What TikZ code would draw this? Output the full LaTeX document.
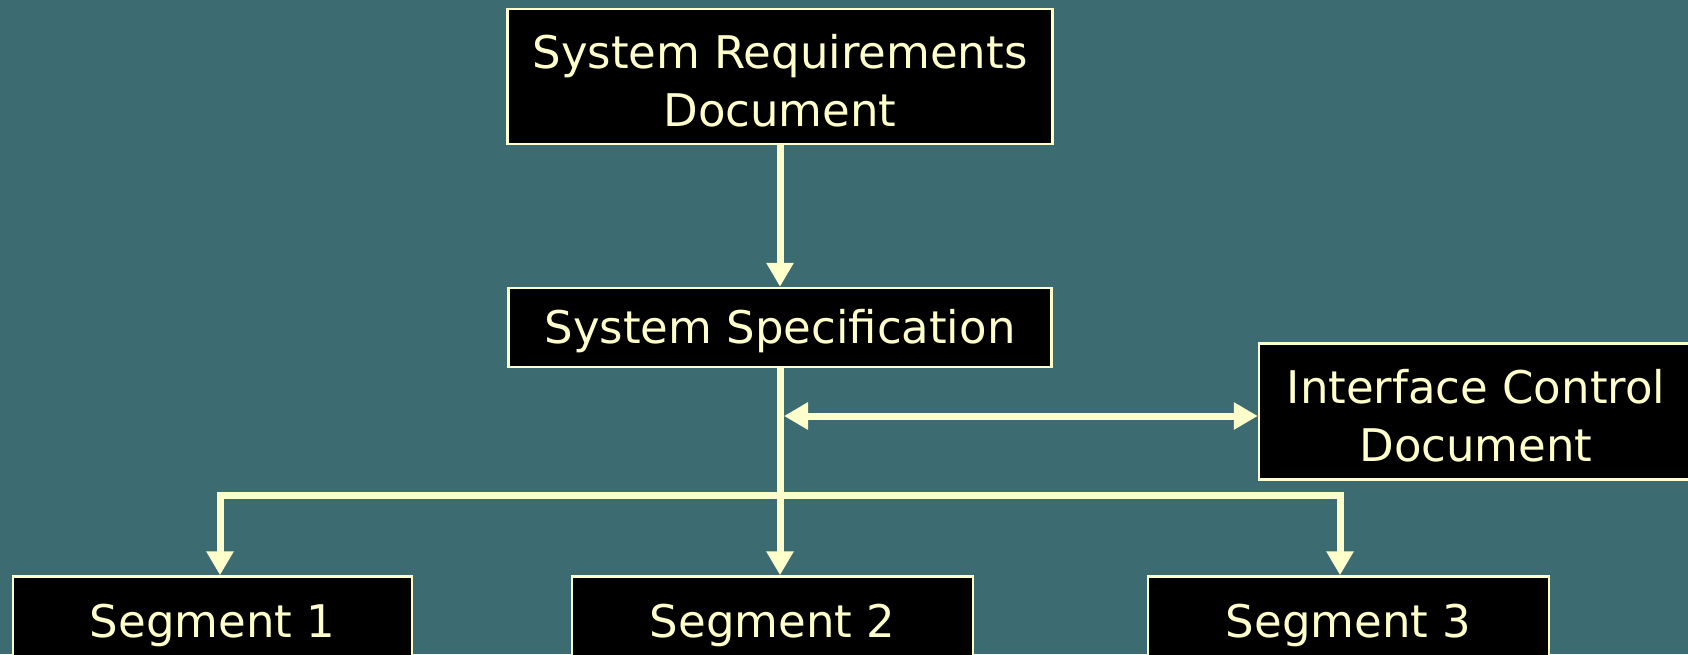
\documentclass[tikz,border=0pt]{standalone}
\usepackage{fontspec}
\setmainfont{DejaVu Sans}
\usetikzlibrary{arrows.meta}

\begin{document}
\begin{tikzpicture}[x=1pt,y=-1pt,line width=0.4pt,
  docbox/.style={draw=paleyel,fill=black,line width=2.5pt,inner sep=0pt,
    align=center,text=paleyel,font=\fdoc},
  oneline/.style={docbox,text height=42pt},
  twolines/.style={docbox,text height=100pt},
  flow/.style={draw=paleyel,line width=7pt,-{Triangle[width=26pt,length=24pt]}},
  twoway/.style={draw=paleyel,line width=7pt,
    {Triangle[width=26pt,length=24pt]}-{Triangle[width=26pt,length=24pt]}}]
\definecolor{paleyel}{RGB}{255,255,204}
\definecolor{tealbg}{RGB}{60,108,114}
\providecommand{\fdoc}{\fontsize{45}{58}\selectfont}
\useasboundingbox (0,0) rectangle (1688,654);
\clip (0,0) rectangle (1688,654);
\fill[tealbg] (0,0) rectangle (1688,654);
% document boxes
\node[twolines,minimum width=545,minimum height=135] (reqdoc) at (780,76.5) {System Requirements\\Document};
\node[oneline,minimum width=543,minimum height=79] (sysspec) at (780,327.5) {System Specification};
\node[twolines,minimum width=434,minimum height=136] (icd) at (1476,411.5) {Interface Control\\Document};
\node[oneline,minimum width=399,minimum height=90] (seg1) at (212.5,621.5) {Segment 1};
\node[oneline,minimum width=401,minimum height=90] (seg2) at (772.5,621.5) {Segment 2};
\node[oneline,minimum width=401,minimum height=90] (seg3) at (1348.5,621.5) {Segment 3};
% flow down the tree
\coordinate (busL) at (220,495);
\coordinate (busR) at (1340,495);
\coordinate (icdlink) at (784,416);
\draw[flow] (reqdoc.south) -- (sysspec.north);
\draw[flow] (sysspec.south) -- (sysspec.south |- seg2.north);
\draw[flow] (sysspec.south |- busL) -| (seg1.north -| busL);
\draw[flow] (sysspec.south |- busR) -| (seg3.north -| busR);
\draw[twoway] (icdlink) -- (icdlink -| icd.west);
\end{tikzpicture}
\end{document}
